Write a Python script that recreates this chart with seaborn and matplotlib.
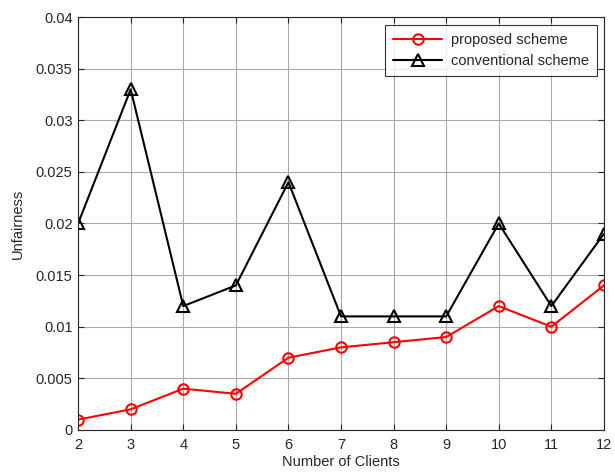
import pandas as pd
import matplotlib.pyplot as plt
import seaborn as sns

clients = [2, 3, 4, 5, 6, 7, 8, 9, 10, 11, 12]
proposed = [0.001, 0.002, 0.004, 0.0035, 0.007, 0.008, 0.0085, 0.009, 0.012, 0.010, 0.014]
conventional = [0.020, 0.033, 0.012, 0.014, 0.024, 0.011, 0.011, 0.011, 0.020, 0.012, 0.019]
y_ticks = [0, 0.005, 0.01, 0.015, 0.02, 0.025, 0.03, 0.035, 0.04]
y_labels = ["0", "0.005", "0.01", "0.015", "0.02", "0.025", "0.03", "0.035", "0.04"]

sns.set_style("ticks")
plt.rcParams['font.family'] = ['Liberation Sans', 'DejaVu Sans']

df = pd.DataFrame({"clients": clients, "proposed": proposed, "conventional": conventional})

fig = plt.figure(figsize=(6.15, 4.73), dpi=100)
ax = fig.add_axes([0.127, 0.091, 0.855, 0.873])

sns.lineplot(data=df, x="clients", y="proposed", ax=ax, color="red", lw=1.5,
             marker="o", markersize=7.5, markerfacecolor="none", markeredgecolor="red",
             markeredgewidth=1.5, label="proposed scheme")
sns.lineplot(data=df, x="clients", y="conventional", ax=ax, color="black", lw=1.5,
             marker="^", markersize=9, markerfacecolor="none", markeredgecolor="black",
             markeredgewidth=1.5, label="conventional scheme")

ax.set_xlim(2, 12)
ax.set_ylim(0, 0.04)
ax.set_xticks(clients)
ax.set_yticks(y_ticks)
ax.set_yticklabels(y_labels)
ax.grid(True, color="#a8a8a8", lw=0.8)
ax.tick_params(direction="in", top=True, right=True, labelsize=10.5, length=4)
ax.tick_params(axis="x", pad=6)
ax.tick_params(axis="y", pad=4)
for s in ax.spines.values():
    s.set_visible(True)
    s.set_linewidth(0.8)
ax.set_xlabel("Number of Clients", fontsize=10.5, labelpad=2)
ax.set_ylabel("Unfairness", fontsize=10.5, labelpad=8)

leg = ax.legend(loc="upper right", fontsize=10.5, frameon=True, fancybox=False,
                edgecolor="black", handlelength=3.4, handletextpad=0.6,
                borderaxespad=0, borderpad=0.55, labelspacing=0.5,
                bbox_to_anchor=(0.987, 0.981))
leg.get_frame().set_linewidth(0.8)

fig.savefig("out.png", dpi=100)
